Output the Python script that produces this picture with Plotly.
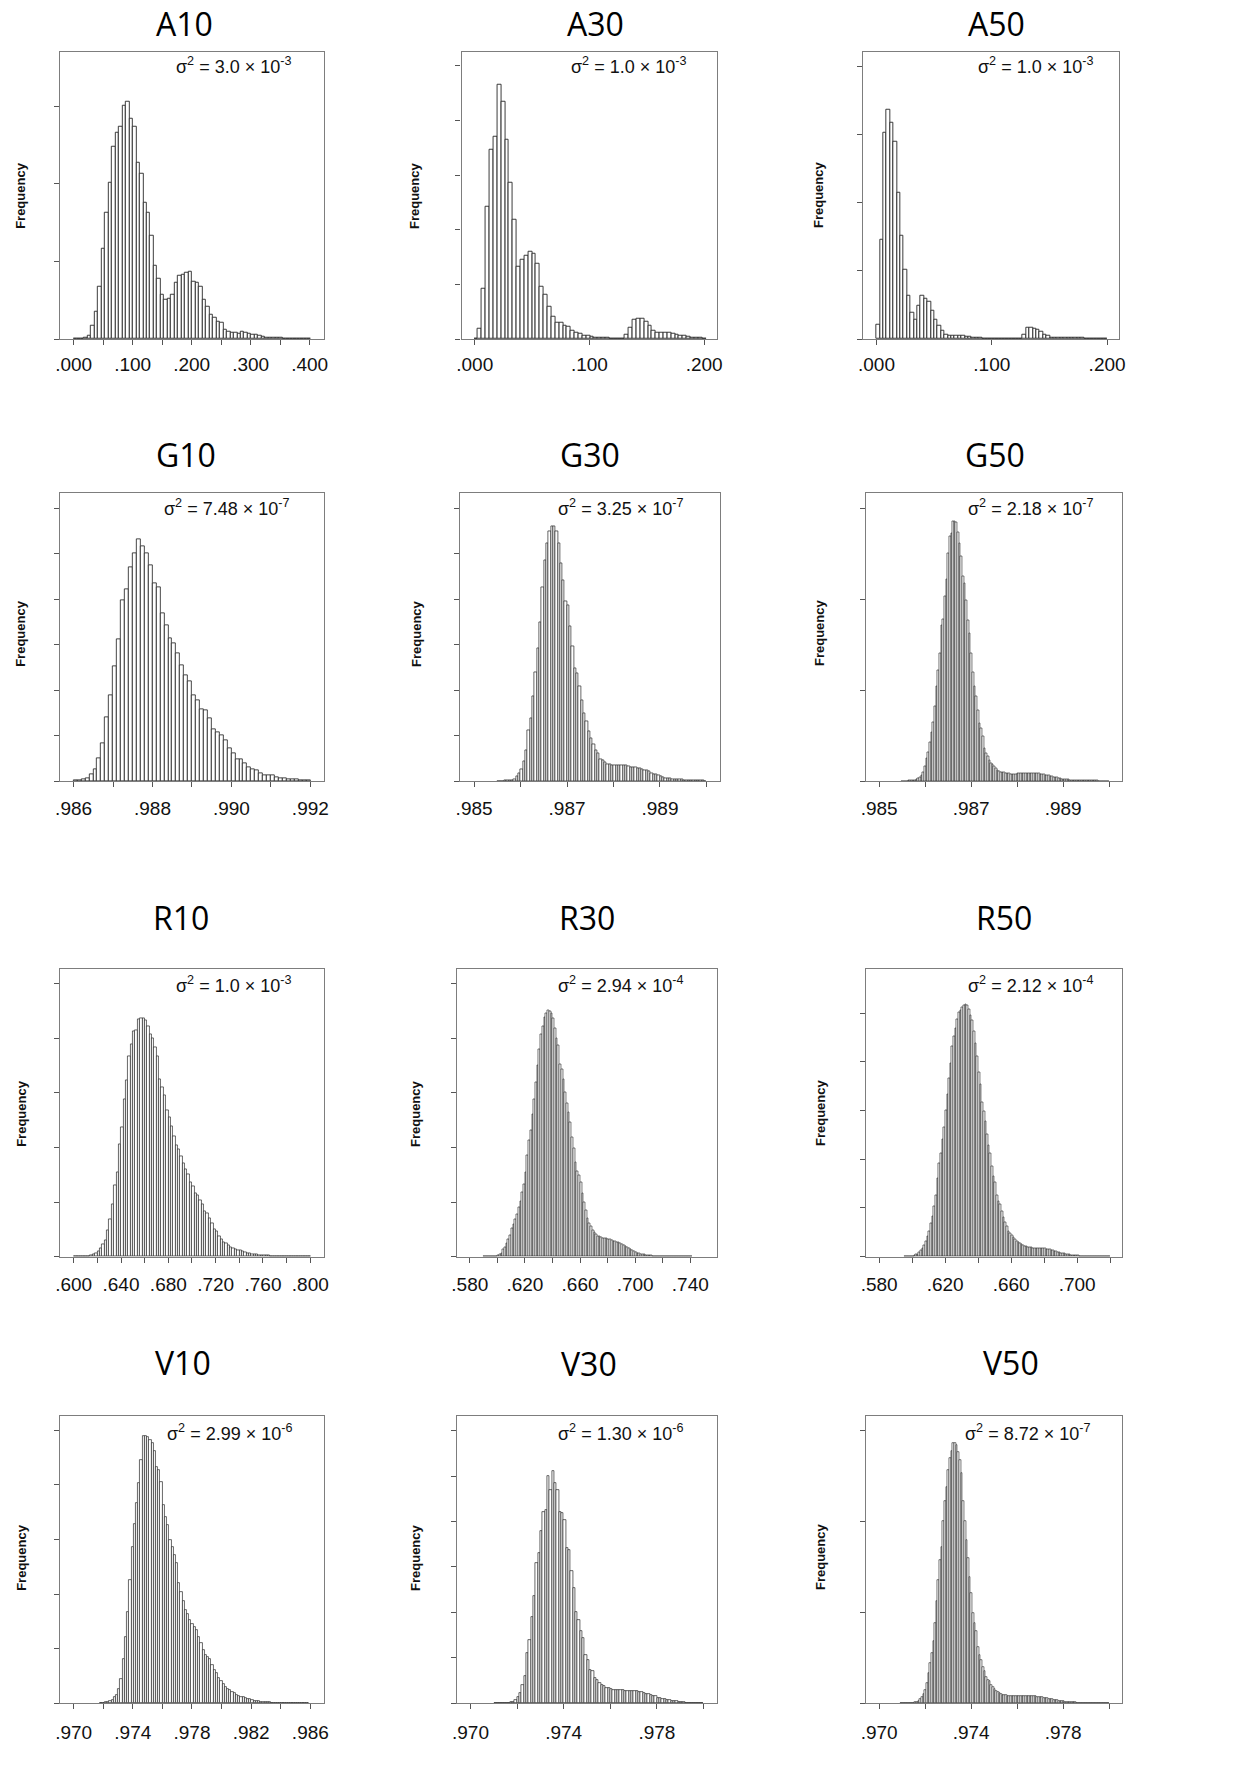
import plotly.graph_objects as go

W, H = 1234, 1786

# ------------------------------------------------------------------
# DATA  (bin start, bin width, bar heights in y-tick units)
# ------------------------------------------------------------------
A10_start, A10_width = 0.0, 0.0059
A10_freq = [0.002, 0.005, 0.01, 0.02, 0.04, 0.17, 0.35, 0.67, 1.16, 1.63,
            2.01, 2.48, 2.66, 2.73, 3.0, 3.06, 2.84, 2.74, 2.27, 2.13,
            1.76, 1.63, 1.33, 0.94, 0.78, 0.57, 0.50, 0.52, 0.57, 0.72,
            0.81, 0.83, 0.86, 0.87, 0.74, 0.73, 0.68, 0.50, 0.42, 0.31,
            0.27, 0.22, 0.21, 0.12, 0.09, 0.08, 0.08, 0.07, 0.09, 0.08,
            0.07, 0.06, 0.05, 0.04, 0.03, 0.02, 0.02, 0.015, 0.015, 0.015,
            0.01, 0.01, 0.008, 0.006, 0.005, 0.004, 0.003, 0.003]

A30_start, A30_width = -0.0005, 0.00337
A30_freq = [0.0, 0.18, 0.92, 2.42, 3.47, 3.70, 4.65, 4.34, 3.65, 2.87,
            2.18, 1.32, 1.45, 1.52, 1.59, 1.57, 1.37, 0.96, 0.82, 0.59,
            0.40, 0.30, 0.29, 0.24, 0.23, 0.16, 0.12, 0.10, 0.06, 0.055,
            0.04, 0.03, 0.025, 0.02, 0.015, 0.01, 0.01, 0.01, 0.01, 0.085,
            0.2, 0.35, 0.38, 0.38, 0.32, 0.24, 0.15, 0.12, 0.115, 0.12,
            0.115, 0.10, 0.08, 0.06, 0.055, 0.04, 0.03, 0.025, 0.02, 0.012]

A50_start, A50_width = 0.0, 0.00295
A50_freq = [0.21, 1.45, 3.03, 3.36, 3.17, 2.89, 2.14, 1.51, 1.02, 0.64,
            0.38, 0.29, 0.49, 0.64, 0.59, 0.54, 0.42, 0.29, 0.20, 0.12,
            0.07, 0.045, 0.05, 0.055, 0.055, 0.05, 0.04, 0.03, 0.025, 0.02,
            0.015, 0.01, 0.01, 0.008, 0.006, 0.005, 0.004, 0.003, 0.003, 0.003,
            0.003, 0.003, 0.003, 0.06, 0.16, 0.17, 0.15, 0.13, 0.10, 0.07,
            0.045, 0.02, 0.015, 0.015, 0.02, 0.02, 0.02, 0.02, 0.015, 0.015,
            0.012, 0.01, 0.008, 0.006, 0.005, 0.004, 0.003, 0.003]

G10_start, G10_width = 0.986, 0.0001
G10_freq = [0.007, 0.02, 0.04, 0.07, 0.15, 0.26, 0.49, 0.84, 1.41, 1.88,
            2.53, 3.12, 3.98, 4.22, 4.70, 5.02, 5.32, 5.16, 5.00, 4.75,
            4.34, 4.26, 3.70, 3.43, 3.14, 3.04, 2.80, 2.54, 2.33, 2.19,
            1.89, 1.78, 1.57, 1.56, 1.37, 1.14, 1.08, 1.01, 0.90, 0.73,
            0.60, 0.47, 0.47, 0.39, 0.31, 0.26, 0.23, 0.17, 0.13, 0.12,
            0.12, 0.08, 0.07, 0.05, 0.044, 0.037, 0.03, 0.022, 0.022, 0.015]

G30_start, G30_width = 0.9855, 0.00005
G30_freq = [0.002, 0.003, 0.004, 0.005, 0.006, 0.008, 0.01,
            0.044, 0.095, 0.17, 0.26, 0.43, 0.68, 1.11, 1.39, 1.87, 2.39,
            2.93, 3.49, 4.26, 4.86, 5.22, 5.49, 5.60, 5.61, 5.49, 5.22,
            4.79, 4.42, 3.95, 3.87, 3.40, 2.96, 2.48, 2.37, 2.08, 1.78,
            1.50, 1.31, 1.09, 0.94, 0.81, 0.68, 0.61, 0.48, 0.45, 0.41,
            0.37, 0.36, 0.34, 0.35, 0.345, 0.345, 0.345, 0.34, 0.34, 0.32,
            0.31, 0.31, 0.30, 0.29, 0.28, 0.26, 0.24, 0.23, 0.21, 0.18,
            0.15, 0.14, 0.12, 0.10, 0.09, 0.07, 0.066, 0.05, 0.044, 0.037,
            0.037, 0.03, 0.03, 0.022, 0.02, 0.015,
            0.012, 0.01, 0.008, 0.007, 0.006, 0.005, 0.004]

G50_start, G50_width = 0.98548, 0.0000359
G50_freq = [0.001, 0.001, 0.002, 0.002, 0.003, 0.004, 0.005,
            0.007, 0.011, 0.018, 0.026, 0.04, 0.066, 0.10, 0.16, 0.25, 0.32,
            0.43, 0.54, 0.65, 0.82, 1.04, 1.22, 1.40, 1.71, 1.78, 2.03,
            2.22, 2.50, 2.69, 2.72, 2.86, 2.86, 2.85, 2.74, 2.62, 2.47,
            2.25, 2.17, 1.99, 1.77, 1.62, 1.40, 1.20, 1.04, 0.93, 0.78,
            0.63, 0.58, 0.49, 0.36, 0.31, 0.27, 0.23, 0.20, 0.18, 0.16,
            0.14, 0.12, 0.11, 0.10, 0.095, 0.092, 0.088, 0.084, 0.081, 0.077,
            0.077, 0.077, 0.077, 0.081, 0.081, 0.084, 0.084, 0.088, 0.088, 0.088,
            0.088, 0.088, 0.088, 0.088, 0.084, 0.084, 0.081, 0.077, 0.073, 0.07,
            0.066, 0.062, 0.059, 0.051, 0.048, 0.044, 0.04, 0.037, 0.029, 0.026,
            0.022, 0.022, 0.018, 0.015, 0.015, 0.011, 0.011, 0.011, 0.007,
            0.007, 0.007, 0.006, 0.006, 0.005, 0.005, 0.004, 0.004, 0.004, 0.003,
            0.003, 0.003, 0.003, 0.002, 0.002, 0.002, 0.002, 0.002, 0.001, 0.001]

R10_start, R10_width = 0.600, 0.002
R10_freq = [0.0, 0.002, 0.003, 0.004, 0.006, 0.01, 0.012, 0.02, 0.037, 0.06,
            0.10, 0.15, 0.23, 0.30, 0.49, 0.69, 0.95, 1.31, 1.55, 2.05,
            2.37, 2.88, 3.23, 3.66, 3.89, 4.12, 4.14, 4.35, 4.36, 4.36,
            4.33, 4.21, 4.07, 3.99, 3.84, 3.66, 3.24, 3.10, 2.96, 2.68,
            2.55, 2.38, 2.21, 2.03, 1.96, 1.83, 1.71, 1.60, 1.51, 1.37,
            1.28, 1.16, 1.12, 1.04, 0.95, 0.84, 0.79, 0.70, 0.61, 0.50,
            0.46, 0.38, 0.32, 0.27, 0.24, 0.21, 0.18, 0.15, 0.14, 0.12,
            0.11, 0.09, 0.08, 0.067, 0.06, 0.05, 0.043, 0.037, 0.03, 0.025,
            0.022, 0.02, 0.017, 0.015, 0.013, 0.012, 0.01, 0.009, 0.008, 0.007,
            0.006, 0.005, 0.005, 0.004, 0.004, 0.003, 0.002, 0.002, 0.001, 0.001]

R30_start, R30_width = 0.590, 0.00125
R30_freq = [0.001, 0.002, 0.002, 0.003, 0.004, 0.005, 0.01, 0.015, 0.03, 0.04,
            0.07, 0.13, 0.18, 0.24, 0.31, 0.40, 0.52, 0.60, 0.68, 0.77,
            0.90, 1.02, 1.17, 1.33, 1.55, 1.85, 2.13, 2.32, 2.60, 2.88,
            3.19, 3.50, 3.80, 4.07, 4.21, 4.39, 4.45, 4.51, 4.50, 4.45,
            4.36, 4.18, 3.99, 3.87, 3.52, 3.43, 3.24, 3.01, 2.80, 2.64,
            2.46, 2.19, 1.98, 1.73, 1.56, 1.49, 1.37, 1.16, 0.99, 0.85,
            0.71, 0.62, 0.55, 0.49, 0.45, 0.41, 0.38, 0.37, 0.35, 0.34,
            0.33, 0.33, 0.32, 0.31, 0.30, 0.29, 0.28, 0.27, 0.26, 0.24,
            0.23, 0.21, 0.19, 0.18, 0.16, 0.14, 0.12, 0.10, 0.08, 0.07,
            0.055, 0.045, 0.04, 0.035, 0.03, 0.025, 0.02, 0.018, 0.015, 0.013,
            0.011, 0.01, 0.009, 0.008, 0.007, 0.006, 0.005, 0.005, 0.004, 0.004,
            0.003, 0.003, 0.003, 0.002, 0.002, 0.002, 0.002, 0.001, 0.001, 0.001, 0.001]

R50_start, R50_width = 0.595, 0.001
R50_freq = [0.002, 0.003, 0.004, 0.006, 0.008, 0.015, 0.03, 0.04, 0.05, 0.085,
            0.13, 0.18, 0.23, 0.32, 0.42, 0.53, 0.68, 0.82, 1.04, 1.26,
            1.60, 1.92, 2.12, 2.40, 2.65, 3.01, 3.33, 3.66, 3.98, 4.32,
            4.52, 4.68, 4.88, 5.02, 5.05, 5.12, 5.16, 5.18, 5.17, 5.08,
            4.96, 4.85, 4.62, 4.38, 4.11, 3.78, 3.53, 3.18, 2.99, 2.77,
            2.51, 2.28, 2.12, 1.86, 1.66, 1.53, 1.27, 1.14, 1.07, 0.94,
            0.81, 0.70, 0.62, 0.53, 0.49, 0.44, 0.40, 0.36, 0.32, 0.29,
            0.27, 0.25, 0.23, 0.22, 0.21, 0.20, 0.19, 0.185, 0.18, 0.178,
            0.178, 0.175, 0.171, 0.17, 0.168, 0.164, 0.157, 0.15, 0.144, 0.137,
            0.13, 0.12, 0.11, 0.10, 0.09, 0.08, 0.07, 0.06, 0.05, 0.045,
            0.04, 0.035, 0.03, 0.027, 0.024, 0.021, 0.018, 0.016, 0.014, 0.012,
            0.011, 0.01, 0.009, 0.008, 0.007, 0.006, 0.005, 0.005, 0.004, 0.004,
            0.003, 0.003, 0.002, 0.002, 0.001]

V10_start, V10_width = 0.9718, 0.00015
V10_freq = [0.003, 0.009, 0.018, 0.03, 0.05, 0.067, 0.11, 0.16, 0.27, 0.45,
            0.82, 1.22, 1.68, 2.26, 2.87, 3.29, 3.66, 4.04, 4.45, 4.89,
            4.89, 4.88, 4.82, 4.76, 4.62, 4.33, 4.27, 4.05, 3.63, 3.41,
            3.26, 2.99, 2.87, 2.71, 2.56, 2.21, 2.04, 1.88, 1.71, 1.63,
            1.52, 1.45, 1.40, 1.35, 1.22, 1.10, 0.98, 0.88, 0.85, 0.82,
            0.70, 0.61, 0.55, 0.46, 0.40, 0.35, 0.30, 0.27, 0.24, 0.21,
            0.18, 0.15, 0.13, 0.12, 0.11, 0.09, 0.08, 0.073, 0.06, 0.05,
            0.043, 0.037, 0.03, 0.025, 0.02, 0.018, 0.016, 0.014, 0.012, 0.011,
            0.01, 0.009, 0.008, 0.007, 0.006, 0.005, 0.004, 0.004, 0.003, 0.003,
            0.002, 0.002, 0.001, 0.001]

V30_start, V30_width = 0.9710, 0.0001
V30_freq = [0.002, 0.003, 0.004, 0.005, 0.007, 0.009, 0.012, 0.018, 0.03, 0.07,
            0.13, 0.23, 0.40, 0.59, 1.10, 1.39, 1.90, 2.35, 3.08, 3.31,
            3.80, 4.20, 4.26, 4.99, 4.70, 5.12, 4.84, 4.69, 4.20, 4.18,
            4.03, 3.41, 3.38, 2.90, 2.53, 2.00, 1.83, 1.58, 1.43, 1.06,
            0.95, 0.73, 0.70, 0.55, 0.51, 0.44, 0.40, 0.37, 0.34, 0.33,
            0.31, 0.30, 0.29, 0.29, 0.29, 0.29, 0.28, 0.28, 0.27, 0.28,
            0.27, 0.26, 0.25, 0.24, 0.23, 0.21, 0.20, 0.18, 0.16, 0.15,
            0.12, 0.11, 0.10, 0.09, 0.07, 0.065, 0.06, 0.045, 0.04, 0.03,
            0.025, 0.02, 0.015, 0.013, 0.01, 0.008, 0.007, 0.006, 0.005, 0.004]

V50_start, V50_width = 0.970897, 0.0000717
V50_freq = [0.003, 0.003, 0.003, 0.003, 0.003, 0.004, 0.004, 0.004, 0.004, 0.011,
            0.018, 0.03, 0.044, 0.066, 0.10, 0.147, 0.22, 0.33, 0.44, 0.55,
            0.68, 0.88, 1.12, 1.36, 1.58, 1.72, 2.00, 2.22, 2.38, 2.57,
            2.70, 2.77, 2.86, 2.86, 2.84, 2.76, 2.68, 2.53, 2.22, 2.00,
            1.80, 1.60, 1.39, 1.21, 0.99, 0.88, 0.79, 0.62, 0.53, 0.48,
            0.40, 0.35, 0.29, 0.26, 0.24, 0.20, 0.18, 0.16, 0.14, 0.128,
            0.11, 0.10, 0.095, 0.09, 0.088, 0.084, 0.08, 0.08, 0.08, 0.08,
            0.077, 0.077, 0.077, 0.08, 0.08, 0.08, 0.08, 0.08, 0.08, 0.08,
            0.08, 0.077, 0.077, 0.073, 0.073, 0.07, 0.066, 0.062, 0.059, 0.055,
            0.051, 0.048, 0.044, 0.04, 0.037, 0.033, 0.029, 0.026, 0.022, 0.022,
            0.018, 0.017, 0.015, 0.013, 0.011, 0.010, 0.009, 0.008, 0.007, 0.006,
            0.006, 0.005, 0.005, 0.004, 0.004, 0.004, 0.003, 0.003, 0.003, 0.002,
            0.002, 0.002, 0.002, 0.001, 0.001, 0.001, 0.001]

# x tick marks: labelled (major) and unlabelled (minor)
A10_major = [0.0, 0.10, 0.20, 0.30, 0.40]
A10_labels = [".000", ".100", ".200", ".300", ".400"]
A10_minor = [0.05, 0.15, 0.25, 0.35]
A30_major = [0.0, 0.1, 0.2]
A30_labels = [".000", ".100", ".200"]
A30_minor = []
A50_major = [0.0, 0.1, 0.2]
A50_labels = [".000", ".100", ".200"]
A50_minor = []
G10_major = [0.986, 0.988, 0.990, 0.992]
G10_labels = [".986", ".988", ".990", ".992"]
G10_minor = [0.987, 0.989, 0.991]
G30_major = [0.985, 0.987, 0.989]
G30_labels = [".985", ".987", ".989"]
G30_minor = [0.986, 0.988, 0.990]
G50_major = [0.985, 0.987, 0.989]
G50_labels = [".985", ".987", ".989"]
G50_minor = [0.986, 0.988, 0.990]
R10_major = [0.60, 0.64, 0.68, 0.72, 0.76, 0.80]
R10_labels = [".600", ".640", ".680", ".720", ".760", ".800"]
R10_minor = [0.62, 0.66, 0.70, 0.74, 0.78]
R30_major = [0.58, 0.62, 0.66, 0.70, 0.74]
R30_labels = [".580", ".620", ".660", ".700", ".740"]
R30_minor = [0.60, 0.64, 0.68, 0.72]
R50_major = [0.58, 0.62, 0.66, 0.70]
R50_labels = [".580", ".620", ".660", ".700"]
R50_minor = [0.60, 0.64, 0.68, 0.72]
V10_major = [0.970, 0.974, 0.978, 0.982, 0.986]
V10_labels = [".970", ".974", ".978", ".982", ".986"]
V10_minor = [0.972, 0.976, 0.980, 0.984]
V30_major = [0.970, 0.974, 0.978]
V30_labels = [".970", ".974", ".978"]
V30_minor = [0.972, 0.976, 0.980]
V50_major = [0.970, 0.974, 0.978]
V50_labels = [".970", ".974", ".978"]
V50_minor = [0.972, 0.976, 0.980]

# variance annotations (mantissa, exponent)
SIGMA = {
    "A10": ("3.0", "-3"), "A30": ("1.0", "-3"), "A50": ("1.0", "-3"),
    "G10": ("7.48", "-7"), "G30": ("3.25", "-7"), "G50": ("2.18", "-7"),
    "R10": ("1.0", "-3"), "R30": ("2.94", "-4"), "R50": ("2.12", "-4"),
    "V10": ("2.99", "-6"), "V30": ("1.30", "-6"), "V50": ("8.72", "-7"),
}

DATA = {
    "A10": (A10_start, A10_width, A10_freq, A10_major, A10_labels, A10_minor),
    "A30": (A30_start, A30_width, A30_freq, A30_major, A30_labels, A30_minor),
    "A50": (A50_start, A50_width, A50_freq, A50_major, A50_labels, A50_minor),
    "G10": (G10_start, G10_width, G10_freq, G10_major, G10_labels, G10_minor),
    "G30": (G30_start, G30_width, G30_freq, G30_major, G30_labels, G30_minor),
    "G50": (G50_start, G50_width, G50_freq, G50_major, G50_labels, G50_minor),
    "R10": (R10_start, R10_width, R10_freq, R10_major, R10_labels, R10_minor),
    "R30": (R30_start, R30_width, R30_freq, R30_major, R30_labels, R30_minor),
    "R50": (R50_start, R50_width, R50_freq, R50_major, R50_labels, R50_minor),
    "V10": (V10_start, V10_width, V10_freq, V10_major, V10_labels, V10_minor),
    "V30": (V30_start, V30_width, V30_freq, V30_major, V30_labels, V30_minor),
    "V50": (V50_start, V50_width, V50_freq, V50_major, V50_labels, V50_minor),
}

# ------------------------------------------------------------------
# LAYOUT (pixel geometry of each panel)
# box = (left, right, top, bottom) px ; xr = x range ; ymax/ny = y range & ticks
# edge = outline width of the bars
# ------------------------------------------------------------------
PANELS = [
    dict(name="A10", box=(54.3, 321.0, 51.7, 339.0), xr=(-0.02355, 0.4241), ymax=3.70, ny=4,
         title=(180.0, None), sig=(290.0, 65.5), freq=(14.0, 195.0), standoff=3, edge=0.9),
    dict(name="A30", box=(460.0, 718.3, 51.7, 339.0), xr=(-0.01151, 0.2115), ymax=5.26, ny=6,
         title=(595.0, None), sig=(688.3, 65.5), freq=(412.0, 195.0), standoff=3, edge=0.9),
    dict(name="A50", box=(865.7, 1124.0, 51.7, 339.0), xr=(-0.01146, 0.2104), ymax=4.21, ny=5,
         title=(1000.0, None), sig=(1099.3, 65.5), freq=(820.0, 195.0), standoff=3, edge=0.9),
    dict(name="G10", box=(54.3, 321.0, 493.3, 781.0), xr=(0.98565, 0.992343), ymax=6.33, ny=7,
         title=(181.7, 456.7), sig=(288.3, 507.0), freq=(15.0, 633.0), standoff=5, edge=0.85),
    dict(name="G30", box=(458.7, 721.0, 493.3, 781.0), xr=(0.984702, 0.990291), ymax=6.33, ny=7,
         title=(590.0, 456.7), sig=(686.0, 507.0), freq=(415.0, 633.0), standoff=5, edge=0.7),
    dict(name="G50", box=(868.7, 1126.7, 493.3, 781.0), xr=(0.98472, 0.990273), ymax=3.165, ny=4,
         title=(999.0, 456.7), sig=(1099.3, 507.0), freq=(822.0, 633.0), standoff=5, edge=0.62),
    dict(name="R10", box=(54.3, 321.0, 969.3, 1256.7), xr=(0.58825, 0.81147), ymax=5.26, ny=6,
         title=(176.7, 919.0), sig=(290.0, 984.3), freq=(15.0, 1113.0), standoff=5, edge=0.7),
    dict(name="R30", box=(455.7, 717.7, 969.3, 1256.7), xr=(0.5709, 0.75916), ymax=5.26, ny=6,
         title=(586.7, 919.0), sig=(686.0, 984.3), freq=(413.0, 1113.0), standoff=5, edge=0.62),
    dict(name="R50", box=(868.7, 1126.7, 969.3, 1256.7), xr=(0.5722, 0.727), ymax=5.90, ny=6,
         title=(1008.3, 919.0), sig=(1099.3, 984.3), freq=(822.0, 1113.0), standoff=5, edge=0.62),
    dict(name="V10", box=(54.3, 321.0, 1416.0, 1703.3), xr=(0.969063, 0.986915), ymax=5.26, ny=6,
         title=(178.3, 1364.5), sig=(291.0, 1432.0), freq=(15.0, 1557.0), standoff=7, edge=0.7),
    dict(name="V30", box=(455.7, 717.7, 1416.0, 1703.3), xr=(0.969434, 0.980567), ymax=6.32, ny=7,
         title=(589.0, 1365.0), sig=(686.0, 1432.0), freq=(413.0, 1557.0), standoff=7, edge=0.7),
    dict(name="V50", box=(868.7, 1126.7, 1416.0, 1703.3), xr=(0.96944, 0.980545), ymax=3.16, ny=4,
         title=(1015.0, 1364.5), sig=(1096.7, 1432.0), freq=(822.0, 1557.0), standoff=7, edge=0.62),
]

BOX_COLOR = "#7d7d7d"
BAR_EDGE = "#262626"
TICK_COLOR = "#555555"
TICK_FONT = dict(family="Liberation Sans, Arial, sans-serif", size=19, color="#111111")
TITLE_FONT = dict(family="'Open Sans', Lato, sans-serif", size=32, color="#000000")

fig = go.Figure()
layout = dict(
    width=W, height=H, margin=dict(l=0, r=0, t=0, b=0),
    paper_bgcolor="white", plot_bgcolor="white", showlegend=False,
    bargap=0,
)
annotations = []

for i, p in enumerate(PANELS, start=1):
    start, width, freq, major, labels, minor = DATA[p["name"]]
    centers = [start + width * (k + 0.5) for k in range(len(freq))]
    suffix = "" if i == 1 else str(i)
    fig.add_trace(go.Bar(
        x=centers, y=freq, width=[width] * len(freq),
        marker=dict(color="white", line=dict(color=BAR_EDGE, width=p["edge"])),
        xaxis="x" + suffix, yaxis="y" + suffix, hoverinfo="x+y",
    ))
    l, r, t, b = p["box"]
    xa = dict(
        domain=[l / W, r / W], range=list(p["xr"]), anchor="y" + suffix,
        tickmode="array", tickvals=major, ticktext=labels,
        ticks="outside", ticklen=5, tickwidth=1, tickcolor=TICK_COLOR,
        showline=True, mirror=True, linecolor=BOX_COLOR, linewidth=1.2,
        showgrid=False, zeroline=False, tickfont=TICK_FONT,
        ticklabelstandoff=p["standoff"], fixedrange=True,
    )
    if minor:
        xa["minor"] = dict(tickmode="array", tickvals=minor, ticks="outside",
                           ticklen=5, tickwidth=1, tickcolor=TICK_COLOR, showgrid=False)
    layout["xaxis" + suffix] = xa
    layout["yaxis" + suffix] = dict(
        domain=[1 - b / H, 1 - t / H], range=[0, p["ymax"]], anchor="x" + suffix,
        tickmode="array", tickvals=list(range(p["ny"])), showticklabels=False,
        ticks="outside", ticklen=5, tickwidth=1, tickcolor=TICK_COLOR,
        showline=True, mirror=True, linecolor=BOX_COLOR, linewidth=1.2,
        showgrid=False, zeroline=False, fixedrange=True,
    )
    tx, ty = p["title"]
    if ty is None:   # top row: keep the title inside the page
        annotations.append(dict(
            x=tx / W, y=1.0, xref="paper", yref="paper", text=p["name"],
            showarrow=False, xanchor="center", yanchor="top", font=TITLE_FONT,
        ))
    else:
        annotations.append(dict(
            x=tx / W, y=1 - (ty - 2) / H, xref="paper", yref="paper", text=p["name"],
            showarrow=False, xanchor="center", yanchor="middle", font=TITLE_FONT,
        ))
    mant, expo = SIGMA[p["name"]]
    sx, sy = p["sig"]
    annotations.append(dict(
        x=sx / W, y=1 - sy / H, xref="paper", yref="paper",
        text="\u03c3<sup>2</sup> = " + mant + " \u00d7 10<sup>" + expo + "</sup>",
        showarrow=False, xanchor="right", yanchor="middle",
        font=dict(family="Liberation Sans, Arial, sans-serif", size=18, color="#111111"),
    ))
    fx, fy = p["freq"]
    annotations.append(dict(
        x=fx / W, y=1 - fy / H, xref="paper", yref="paper",
        text="<b>Frequency</b>", showarrow=False, textangle=-90,
        xanchor="center", yanchor="middle",
        font=dict(family="Liberation Sans, Arial, sans-serif", size=13, color="#111111"),
    ))

layout["annotations"] = annotations
fig.update_layout(**layout)
fig.write_html("out.html", config={"displayModeBar": False},
               post_script="document.body.style.margin='0px';")
